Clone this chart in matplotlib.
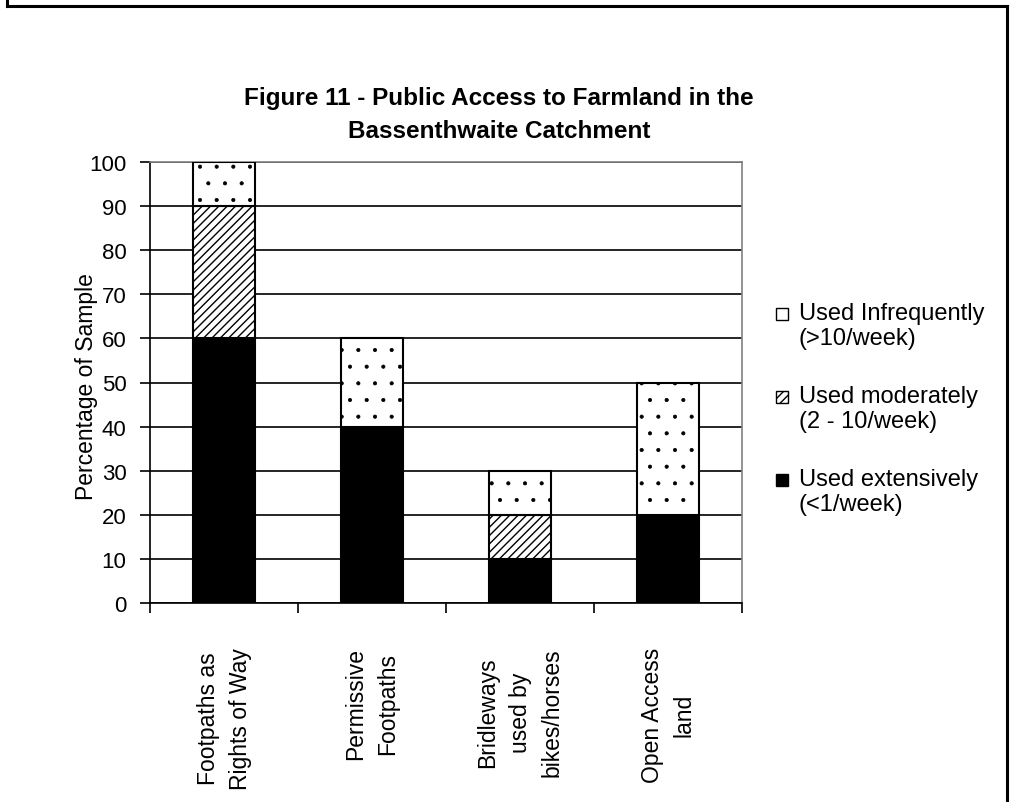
import numpy as np
import matplotlib
matplotlib.use("Agg")
import matplotlib.pyplot as plt
from matplotlib.patches import Rectangle
from matplotlib.lines import Line2D

plt.rcParams['font.family'] = ['Liberation Sans', 'DejaVu Sans']
plt.rcParams['hatch.linewidth'] = 1.0

categories = ['Footpaths as\nRights of Way', 'Permissive\nFootpaths',
              'Bridleways\nused by\nbikes/horses', 'Open Access\nland']
extensive = [60, 40, 10, 20]
moderate = [30, 0, 10, 0]
infrequent = [10, 20, 10, 30]
series_labels = ['Used Infrequently\n(>10/week)', 'Used moderately\n(2 - 10/week)',
                 'Used extensively\n(<1/week)']

W, H = 1010, 803
fig = plt.figure(figsize=(W / 100, H / 100), dpi=100)
ax = fig.add_axes([150 / W, 1 - 604 / H, 592 / W, 441 / H])

x = np.arange(len(categories))
w = 0.42
ext = np.array(extensive)
mod = np.array(moderate)
inf = np.array(infrequent)

b1 = ax.bar(x, ext, w, color='black', edgecolor='black', linewidth=1.5, zorder=3)
b2 = ax.bar(x, mod, w, bottom=ext, color='white', edgecolor='black', hatch='////',
            linewidth=1.5, zorder=3)
b3 = ax.bar(x, inf, w, bottom=ext + mod, color='white', edgecolor='black', hatch='.',
            linewidth=1.5, zorder=3)
for r, v in zip(b2, mod):
    if v == 0:
        r.set_visible(False)
for r in b3:
    try:
        r.set_hatch_linewidth(0.5)
    except AttributeError:
        pass

ax.set_xlim(-0.5, len(categories) - 0.5)
ax.set_ylim(0, 100)
ax.set_yticks(np.arange(0, 101, 10))
ax.yaxis.grid(True, color='black', linewidth=1.2, zorder=0)
ax.set_axisbelow(True)
ax.tick_params(axis='y', labelsize=16, length=7, width=1.2, direction='out', pad=10)

ax.set_xticks(np.arange(-0.5, len(categories), 1.0))
ax.set_xticklabels([])
ax.tick_params(axis='x', length=7, width=1.2, direction='out')
for i, lab in enumerate(categories):
    ax.text(i, -10, lab, rotation=90, ha='center', va='top', fontsize=16.5,
            multialignment='center', linespacing=1.5)

for s in ['top', 'right']:
    ax.spines[s].set_color('#808080')
    ax.spines[s].set_linewidth(1.2)
ax.spines['left'].set_linewidth(1.2)
ax.spines['bottom'].set_linewidth(1.2)

ax.set_ylabel('Percentage of Sample', fontsize=16.5)
ax.yaxis.label.set_va('center')
ax.yaxis.set_label_coords(-0.108, 0.494)

fig.text(0.494, 1 - 115 / H, 'Figure 11 - Public Access to Farmland in the\nBassenthwaite Catchment',
         ha='center', va='center', fontsize=17.5, fontweight='bold', linespacing=1.6)

# legend drawn Excel style: box beside first text line
leg_fc = ['white', 'white', 'black']
leg_hatch = [None, '////', None]
leg_y = [315, 398, 481]
for lab, fc, hat, yy in zip(series_labels, leg_fc, leg_hatch, leg_y):
    fig.patches.append(Rectangle((776 / W, 1 - (yy + 6) / H), 12 / W, 12 / H,
                                 transform=fig.transFigure, facecolor=fc, hatch=hat,
                                 edgecolor='black', linewidth=1.0))
    fig.text(799 / W, 1 - (yy - 12) / H, lab, ha='left', va='top', fontsize=17,
             linespacing=1.2)

# outer chart border (left, top, right)
for xs, ys in [([7, 7], [0, 7]), ([7, 1007], [7, 7]), ([1007, 1007], [7, 803])]:
    fig.lines.append(Line2D([v / W for v in xs], [1 - v / H for v in ys],
                            transform=fig.transFigure, color='black', linewidth=2.2))

fig.savefig('out.png', dpi=100)
